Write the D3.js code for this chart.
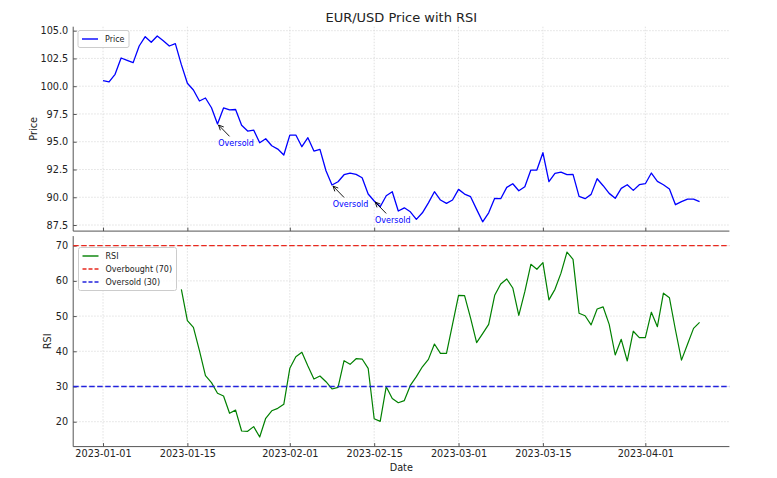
<!DOCTYPE html>
<html>
<head>
<meta charset="utf-8">
<script src="https://cdn.jsdelivr.net/npm/d3@7"></script>
<style>
  html, body { margin: 0; padding: 0; background: #fff; }
  svg { display: block; font-family: "DejaVu Sans", sans-serif; }
</style>
</head>
<body>
<svg id="chart" width="777" height="478"></svg>
<script>
// ---- data ----
const startDate = new Date(Date.UTC(2023, 0, 1));
const endDate = new Date(Date.UTC(2023, 3, 11)); // exclusive
const dates = d3.utcDay.range(startDate, endDate); // 2023-01-01 .. 2023-04-10

const price = [
  100.5, 100.38, 101.07, 102.54, 102.33, 102.12, 103.62, 104.46, 103.95, 104.52,
  104.1, 103.62, 103.83, 101.94, 100.26, 99.66, 98.67, 98.94, 98.06, 96.6,
  98.04, 97.86, 97.9, 96.48, 95.96, 96.05, 94.91, 95.27, 94.64, 94.34,
  93.8, 95.6, 95.6, 94.55, 95.36, 94.16, 94.31, 92.39, 91.1, 91.4,
  92.03, 92.18, 92.06, 91.76, 90.29, 89.66, 89.14, 90.14, 90.5, 88.76,
  89.05, 88.69, 88.01, 88.6, 89.5, 90.5, 89.75, 89.45, 89.75, 90.71,
  90.29, 90.05, 88.91, 87.79, 88.6, 89.9, 89.87, 90.89, 91.22, 90.59,
  90.95, 92.45, 92.45, 94.01, 91.4, 92.15, 92.27, 92.03, 92.06, 90.08,
  89.87, 90.26, 91.67, 91.04, 90.35, 89.9, 90.8, 91.13, 90.62, 91.13,
  91.22, 92.18, 91.43, 91.13, 90.74, 89.33, 89.6, 89.84, 89.84, 89.6
];

const rsi = [
  null, null, null, null, null, null, null, null, null, null,
  null, null, null, 57.6, 48.7, 46.8, 40.2, 33.07, 31.1, 28.07,
  27.3, 22.4, 23.3, 17.36, 17.27, 18.6, 15.65, 20.97, 23.1, 23.8,
  24.94, 35.17, 38.47, 39.7, 35.8, 32.13, 32.98, 31.36, 29.3, 29.77,
  37.33, 36.3, 37.9, 37.8, 35.17, 20.85, 20.1, 29.95, 26.6, 25.4,
  26.0, 30.3, 32.8, 35.6, 37.7, 42.07, 39.4, 39.4, 47.66, 55.9,
  55.8, 49.4, 42.45, 45.0, 47.66, 55.9, 59.1, 60.54, 57.98, 50.2,
  56.94, 64.7, 63.3, 65.2, 54.6, 57.6, 62.2, 68.2, 66.1, 50.8,
  50.1, 47.5, 52.0, 52.6, 47.66, 38.95, 43.4, 37.25, 45.7, 43.9,
  43.9, 51.1, 47.0, 56.5, 55.2, 46.05, 37.5, 42.0, 46.5, 48.2
];

const overbought = 70;
const oversold = 30;
const oversoldIdx = [19, 38, 45]; // annotated "Oversold" points

const xTickDates = ["2023-01-01", "2023-01-15", "2023-02-01", "2023-02-15", "2023-03-01", "2023-03-15", "2023-04-01"];
const priceTicks = [87.5, 90.0, 92.5, 95.0, 97.5, 100.0, 102.5, 105.0];
const rsiTicks = [20, 30, 40, 50, 60, 70];

const titleText = "EUR/USD Price with RSI";

// ---- layout ----
const svg = d3.select("#chart");
const L = 73.2, R = 729.4;
const top1 = 26.7, bot1 = 231.1;
const top2 = 236.1, bot2 = 446.6;

const pad = (lo, hi) => { const s = hi - lo; return [lo - 0.05 * s, hi + 0.05 * s]; };

const xDom = pad(+dates[0], +dates[dates.length - 1]);
const x = d3.scaleUtc().domain(xDom.map(d => new Date(d))).range([L, R]);

const pExt = d3.extent(price);
const y1 = d3.scaleLinear().domain(pad(pExt[0], pExt[1])).range([bot1, top1]);

const rVals = rsi.filter(v => v != null).concat([overbought, oversold]);
const rExt = d3.extent(rVals);
const y2 = d3.scaleLinear().domain(pad(rExt[0], rExt[1])).range([bot2, top2]);

const parse = d3.utcParse("%Y-%m-%d");
const fmt = d3.utcFormat("%Y-%m-%d");
const xTicks = xTickDates.map(parse);

const gridColor = "#d9d9d9";
const spineColor = "#555";
const tickFont = 9.7;

function drawPanel(yScale, yTicks, yFmt, top, bot, showXLabels) {
  const g = svg.append("g");
  // grid
  g.append("g").selectAll("line.vg").data(xTicks).join("line")
    .attr("x1", d => x(d)).attr("x2", d => x(d))
    .attr("y1", top).attr("y2", bot)
    .attr("stroke", gridColor).attr("stroke-width", 0.8).attr("stroke-dasharray", "1.5,1.5");
  g.append("g").selectAll("line.hg").data(yTicks).join("line")
    .attr("x1", L).attr("x2", R)
    .attr("y1", d => yScale(d)).attr("y2", d => yScale(d))
    .attr("stroke", gridColor).attr("stroke-width", 0.8).attr("stroke-dasharray", "1.5,1.5");

  // axes with d3
  const yAxis = d3.axisLeft(yScale).tickValues(yTicks).tickFormat(yFmt).tickSizeInner(-3.5).tickSizeOuter(0).tickPadding(5);
  const ya = g.append("g").attr("transform", `translate(${L},0)`).call(yAxis);
  ya.select(".domain").remove();
  ya.selectAll(".tick line").attr("stroke", spineColor);
  ya.selectAll(".tick text").attr("font-size", tickFont).attr("fill", "#222").attr("font-family", "DejaVu Sans");

  const xAxis = d3.axisBottom(x).tickValues(xTicks).tickFormat(showXLabels ? fmt : () => "").tickSizeInner(-3.5).tickSizeOuter(0).tickPadding(3.5);
  const xa = g.append("g").attr("transform", `translate(0,${bot})`).call(xAxis);
  xa.select(".domain").remove();
  xa.selectAll(".tick line").attr("stroke", spineColor);
  xa.selectAll(".tick text").attr("font-size", tickFont).attr("fill", "#222").attr("font-family", "DejaVu Sans");

  // spines (left + bottom)
  g.append("line").attr("x1", L).attr("x2", L).attr("y1", top).attr("y2", bot)
    .attr("stroke", spineColor).attr("stroke-width", 1);
  g.append("line").attr("x1", L).attr("x2", R).attr("y1", bot).attr("y2", bot)
    .attr("stroke", spineColor).attr("stroke-width", 1);
  return g;
}

drawPanel(y1, priceTicks, d3.format(".1f"), top1, bot1, false);
drawPanel(y2, rsiTicks, d3.format("d"), top2, bot2, true);

// ---- price line ----
const priceLine = d3.line().x((d, i) => x(dates[i])).y(d => y1(d));
svg.append("path").datum(price).attr("d", priceLine)
  .attr("fill", "none").attr("stroke", "#0000ff").attr("stroke-width", 1.3).attr("stroke-linejoin", "round");

// ---- annotations ----
oversoldIdx.forEach(i => {
  const px = x(dates[i]), py = y1(price[i]);
  const cx = px + 18.6, cy = py + 19.2;
  svg.append("text").attr("x", cx).attr("y", cy).attr("dy", "0.35em")
    .attr("text-anchor", "middle").attr("font-size", 8).attr("fill", "#0000ff").text("Oversold");
  const dx = px - cx, dy = py - cy;
  const t0 = 6.8 / Math.abs(dy);
  const sx = cx + dx * t0, sy = cy + dy * t0;
  const len = Math.hypot(px - sx, py - sy);
  const ux = (px - sx) / len, uy = (py - sy) / len;
  const ex = px - ux * 1.5, ey = py - uy * 1.5;
  svg.append("line").attr("x1", sx).attr("y1", sy).attr("x2", ex).attr("y2", ey)
    .attr("stroke", "#000").attr("stroke-width", 0.9);
  const hl = 5, hw = 2.4;
  const bx = ex - ux * hl, by = ey - uy * hl;
  const nx = -uy, ny = ux;
  svg.append("path")
    .attr("d", `M${bx + nx * hw},${by + ny * hw}L${ex},${ey}L${bx - nx * hw},${by - ny * hw}`)
    .attr("fill", "none").attr("stroke", "#000").attr("stroke-width", 0.9);
});

// ---- RSI panel lines ----
const rsiLine = d3.line().defined(d => d != null).x((d, i) => x(dates[i])).y(d => y2(d));
svg.append("path").datum(rsi).attr("d", rsiLine)
  .attr("fill", "none").attr("stroke", "#008000").attr("stroke-width", 1.2).attr("stroke-linejoin", "round");

// ---- legends ----
function legend(x0, y0, w, items) {
  const rowH = 13;
  const h = items.length * rowH + 4;
  const g = svg.append("g");
  g.append("rect").attr("x", x0 + 0.5).attr("y", y0 + 0.5).attr("width", w).attr("height", h)
    .attr("rx", 2).attr("fill", "#fff").attr("fill-opacity", 0.8).attr("stroke", "#cccccc").attr("stroke-width", 1);
  items.forEach((it, k) => {
    const cy = y0 + 2 + rowH * (k + 0.5) + 0.5;
    g.append("line").attr("x1", x0 + 4.5).attr("x2", x0 + 20.5).attr("y1", cy).attr("y2", cy)
      .attr("stroke", it.color).attr("stroke-width", 1.4).attr("stroke-dasharray", it.dash || null);
    g.append("text").attr("x", x0 + 27.5).attr("y", cy).attr("dy", "0.35em")
      .attr("font-size", 8).attr("fill", "#222").text(it.label);
  });
}
legend(77.5, 30, 51, [{ label: "Price", color: "#0000ff" }]);
legend(78, 247, 98, [
  { label: "RSI", color: "#008000" },
  { label: "Overbought (70)", color: "#e8281e", dash: "4,2" },
  { label: "Oversold (30)", color: "#2222dd", dash: "4,2" }
]);

// threshold lines drawn on top
svg.append("line").attr("x1", L).attr("x2", R).attr("y1", y2(overbought)).attr("y2", y2(overbought))
  .attr("stroke", "#e8281e").attr("stroke-width", 1.4).attr("stroke-dasharray", "5.5,2.5");
svg.append("line").attr("x1", L).attr("x2", R).attr("y1", y2(oversold)).attr("y2", y2(oversold))
  .attr("stroke", "#2222dd").attr("stroke-width", 1.4).attr("stroke-dasharray", "5.5,2.5");

// ---- titles and labels ----
svg.append("text").attr("x", (L + R) / 2).attr("y", 21.5).attr("text-anchor", "middle")
  .attr("font-size", 13).attr("fill", "#222").text(titleText);
svg.append("text").attr("transform", `translate(37,${(top1 + bot1) / 2}) rotate(-90)`)
  .attr("text-anchor", "middle").attr("font-size", tickFont).attr("fill", "#222").text("Price");
svg.append("text").attr("transform", `translate(51,${(top2 + bot2) / 2}) rotate(-90)`)
  .attr("text-anchor", "middle").attr("font-size", tickFont).attr("fill", "#222").text("RSI");
svg.append("text").attr("x", (L + R) / 2).attr("y", 471).attr("text-anchor", "middle")
  .attr("font-size", tickFont).attr("fill", "#222").text("Date");
</script>
</body>
</html>
